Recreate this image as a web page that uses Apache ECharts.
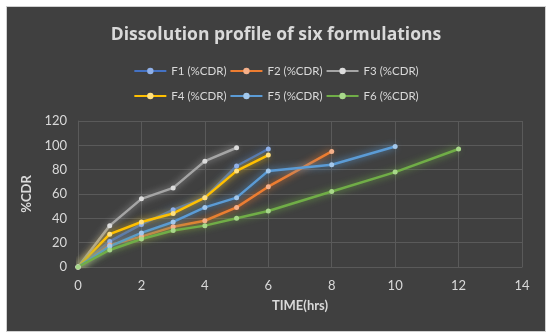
<!DOCTYPE html>
<html><head><meta charset="utf-8">
<script src="https://cdn.jsdelivr.net/npm/echarts@6/dist/echarts.min.js"></script>
<style>html,body{margin:0;padding:0;background:#fff}#c{width:552px;height:336px}</style>
</head><body><div id="c"></div>
<script>
const names = ['F1 (%CDR)','F2 (%CDR)','F3 (%CDR)','F4 (%CDR)','F5 (%CDR)','F6 (%CDR)'];
const timeF1 = [0,1,2,3,4,5,6];
const timeF2 = [0,1,2,3,4,5,6,8];
const timeF3 = [0,1,2,3,4,5];
const timeF4 = [0,1,2,3,4,5,6];
const timeF5 = [0,1,2,3,4,5,6,8,10];
const timeF6 = [0,1,2,3,4,5,6,8,10,12];
const cdrF1 = [0,21,35,47,57,83,97];
const cdrF2 = [0,18,25,33,38,49,66,95];
const cdrF3 = [0,34,56,65,87,98];
const cdrF4 = [0,27,37,44,57,79,92];
const cdrF5 = [0,17,28,37,49,57,79,84,99];
const cdrF6 = [0,14,23,30,34,40,46,62,78,97];
const xTicks = [0,2,4,6,8,10,12,14];
const yTicks = [0,20,40,60,80,100,120];

const times = [timeF1,timeF2,timeF3,timeF4,timeF5,timeF6];
const vals = [cdrF1,cdrF2,cdrF3,cdrF4,cdrF5,cdrF6];
const colors = ['#4472C4','#ED7D31','#A5A5A5','#FFC000','#5B9BD5','#70AD47'];
const marks  = ['#8fb0e8','#f5b08a','#dcdcdc','#ffe080','#a3c8ec','#a8d88a'];

const series = names.map((n,i)=>({
  name:n, type:'line',
  data: times[i].map((t,k)=>[t, vals[i][k]]),
  symbol:'circle', symbolSize:5,
  lineStyle:{color:colors[i], width:2.5, shadowColor:colors[i], shadowBlur:7},
  itemStyle:{color:marks[i], borderWidth:0},
  color:colors[i],
  emphasis:{disabled:true}
}));

const chart = echarts.init(document.getElementById('c'), null, {renderer:'canvas'});
const lab = {color:'#d9d9d9', fontFamily:'Lato', fontSize:13};
const legText = {color:'#d9d9d9', fontFamily:'Lato', fontSize:11.5};
chart.setOption({
  backgroundColor:'#ffffff',
  animation:false,
  graphic:[{type:'rect', z:-10, silent:true, shape:{x:6.5,y:6.5,width:539,height:325},
    style:{fill:'#404040', stroke:'#d0d0d0', lineWidth:1}}],
  title:{text:'Dissolution profile of six formulations', left:'center', top:21,
    textStyle:{color:'#d9d9d9', fontFamily:'Open Sans', fontWeight:'bold', fontSize:17.5}},
  legend:[
    {data:names.slice(0,3), top:60, left:'center', itemWidth:32, itemHeight:8, itemGap:3,
     textStyle:legText},
    {data:names.slice(3,6), top:85, left:'center', itemWidth:32, itemHeight:8, itemGap:3,
     textStyle:legText}
  ],
  grid:{left:78, right:30, top:121, bottom:69, containLabel:false},
  xAxis:{type:'value', min:xTicks[0], max:xTicks[xTicks.length-1], interval:2,
    name:'TIME(hrs)', nameLocation:'middle', nameGap:32,
    nameTextStyle:{color:'#d9d9d9', fontFamily:'Lato', fontWeight:'bold', fontSize:13},
    axisLine:{show:true, lineStyle:{color:'#5a5a5a'}}, axisTick:{show:false},
    axisLabel:Object.assign({margin:12}, lab),
    splitLine:{show:true, lineStyle:{color:'#5a5a5a'}}},
  yAxis:{type:'value', min:yTicks[0], max:yTicks[yTicks.length-1], interval:20,
    name:'%CDR', nameLocation:'middle', nameGap:38, nameRotate:90,
    nameTextStyle:{color:'#d9d9d9', fontFamily:'Lato', fontWeight:'bold', fontSize:13},
    axisLine:{show:true, lineStyle:{color:'#5a5a5a'}}, axisTick:{show:false},
    axisLabel:Object.assign({margin:11}, lab),
    splitLine:{show:true, lineStyle:{color:'#5a5a5a'}}},
  series: series
});
</script></body></html>
